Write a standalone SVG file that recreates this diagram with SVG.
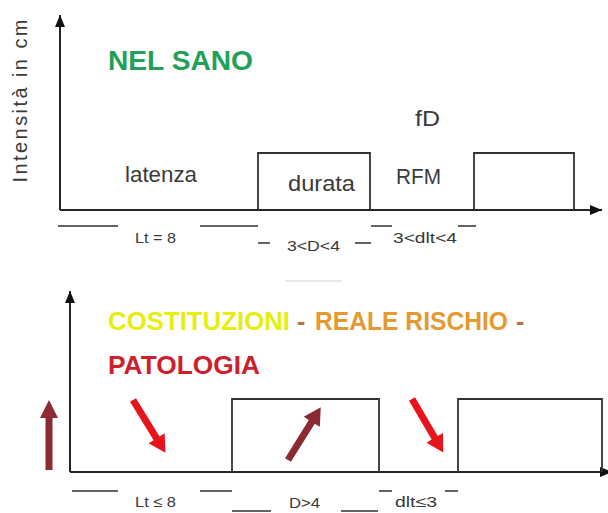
<svg xmlns="http://www.w3.org/2000/svg" width="608" height="513" viewBox="0 0 608 513">
  <style>
    .axis { stroke: #262626; stroke-width: 2; fill: none; }
    .pulse { stroke: #333; stroke-width: 1.8; fill: none; }
    .dim { stroke: #333; stroke-width: 1.5; fill: none; }
    .lbl { font-family: "Liberation Sans", Arial, sans-serif; fill: #3a3a3a; }
    .big { font-size: 22px; }
    .small { font-size: 15px; }
    .title { font-family: "Liberation Sans", Arial, sans-serif; font-weight: bold; font-size: 25px; }
  </style>
  <defs>
    <marker id="axisHead" markerUnits="userSpaceOnUse" markerWidth="12" markerHeight="10" refX="12" refY="5" orient="auto">
      <path d="M0,0 L12,5 L0,10 Z" fill="#111"/>
    </marker>
    <!-- block arrow pointing along +x, 62 long -->
    <path id="blockArrow" d="M0,-3.5 L45,-3.5 L45,-9.5 L62,0 L45,9.5 L45,3.5 L0,3.5 Z"/>
  </defs>

  <rect width="608" height="513" fill="#ffffff"/>

  <!-- upper chart: healthy -->
  <g id="chart-sano">
    <g id="axes-sano">
      <path class="axis" d="M60,210 V15" marker-end="url(#axisHead)"/>
      <path class="axis" d="M60,210 H602" marker-end="url(#axisHead)"/>
    </g>
    <text id="y-label" class="lbl" font-size="20" text-anchor="middle" textLength="163" lengthAdjust="spacing" transform="translate(27,101) rotate(-90)">Intensità in cm</text>
    <text id="title-sano" class="title" x="108" y="70" fill="#22a05a" textLength="145" lengthAdjust="spacingAndGlyphs" style="font-size:28px">NEL SANO</text>

    <g id="pulse-1"><path class="pulse" d="M258,210 V153 H370 V210"/></g>
    <g id="pulse-2"><path class="pulse" d="M474,210 V153 H574 V210"/></g>

    <text class="lbl big" x="125" y="182" textLength="72" lengthAdjust="spacingAndGlyphs">latenza</text>
    <text class="lbl big" x="288" y="191" textLength="67" lengthAdjust="spacingAndGlyphs">durata</text>
    <text class="lbl big" x="415" y="126" textLength="25" lengthAdjust="spacingAndGlyphs">fD</text>
    <text class="lbl big" x="396" y="184" textLength="45" lengthAdjust="spacingAndGlyphs">RFM</text>

    <g id="dims-sano">
      <path class="dim" d="M58,226 H118 M200,226 H258 M258,243 H270 M355,243 H371 M371,226 H392 M458,226 H476"/>
      <text class="lbl small" x="135" y="243" textLength="41" lengthAdjust="spacingAndGlyphs">Lt = 8</text>
      <text class="lbl small" x="287" y="251" textLength="53" lengthAdjust="spacingAndGlyphs">3&lt;D&lt;4</text>
      <text class="lbl small" x="393" y="243" textLength="64" lengthAdjust="spacingAndGlyphs">3&lt;dlt&lt;4</text>
    </g>
    <path d="M285,281 H342" stroke="#e8e8e8" stroke-width="2"/>
  </g>

  <!-- lower chart: constitutions / real risk / pathology -->
  <g id="chart-patologia">
    <g id="axes-patologia">
      <path class="axis" d="M70,472 V291" marker-end="url(#axisHead)"/>
      <path class="axis" d="M70,472 H612" marker-end="url(#axisHead)"/>
    </g>
    <g id="title-patologia" class="title">
      <text x="108" y="330" fill="#e6ee10" textLength="182" lengthAdjust="spacingAndGlyphs">COSTITUZIONI</text>
      <text x="297" y="330" fill="#c0703a">-</text>
      <text x="315" y="330" fill="#e49a30" textLength="193" lengthAdjust="spacingAndGlyphs">REALE RISCHIO</text>
      <text x="516" y="330" fill="#b8703e">-</text>
      <text x="108" y="374" fill="#cc1f30" textLength="152" lengthAdjust="spacingAndGlyphs">PATOLOGIA</text>
    </g>

    <g id="pulse-3"><path class="pulse" d="M232,472 V399 H379 V472"/></g>
    <g id="pulse-4"><path class="pulse" d="M458,472 V399 H602 V472"/></g>

    <g id="trend-arrows">
      <path d="M45.5,470 V418 H40 L49,400 L58,418 H52.5 V470 Z" fill="#8b2a32"/>
      <use href="#blockArrow" fill="#e8141c" transform="translate(133,400) rotate(58.4)"/>
      <use href="#blockArrow" fill="#8b2a32" transform="translate(288,460) rotate(-58.1)"/>
      <use href="#blockArrow" fill="#e8141c" transform="translate(412,399) rotate(59.7)"/>
    </g>

    <g id="dims-patologia">
      <path class="dim" d="M72,491 H118 M200,491 H232 M232,511 H271 M341,511 H378 M379,491 H392 M445,491 H458"/>
      <text class="lbl small" x="135" y="507" textLength="41" lengthAdjust="spacingAndGlyphs">Lt ≤ 8</text>
      <text class="lbl" font-size="14" x="289" y="508" textLength="31" lengthAdjust="spacingAndGlyphs">D&gt;4</text>
      <text class="lbl small" x="395" y="507" textLength="42" lengthAdjust="spacingAndGlyphs">dlt≤3</text>
    </g>
  </g>
</svg>
